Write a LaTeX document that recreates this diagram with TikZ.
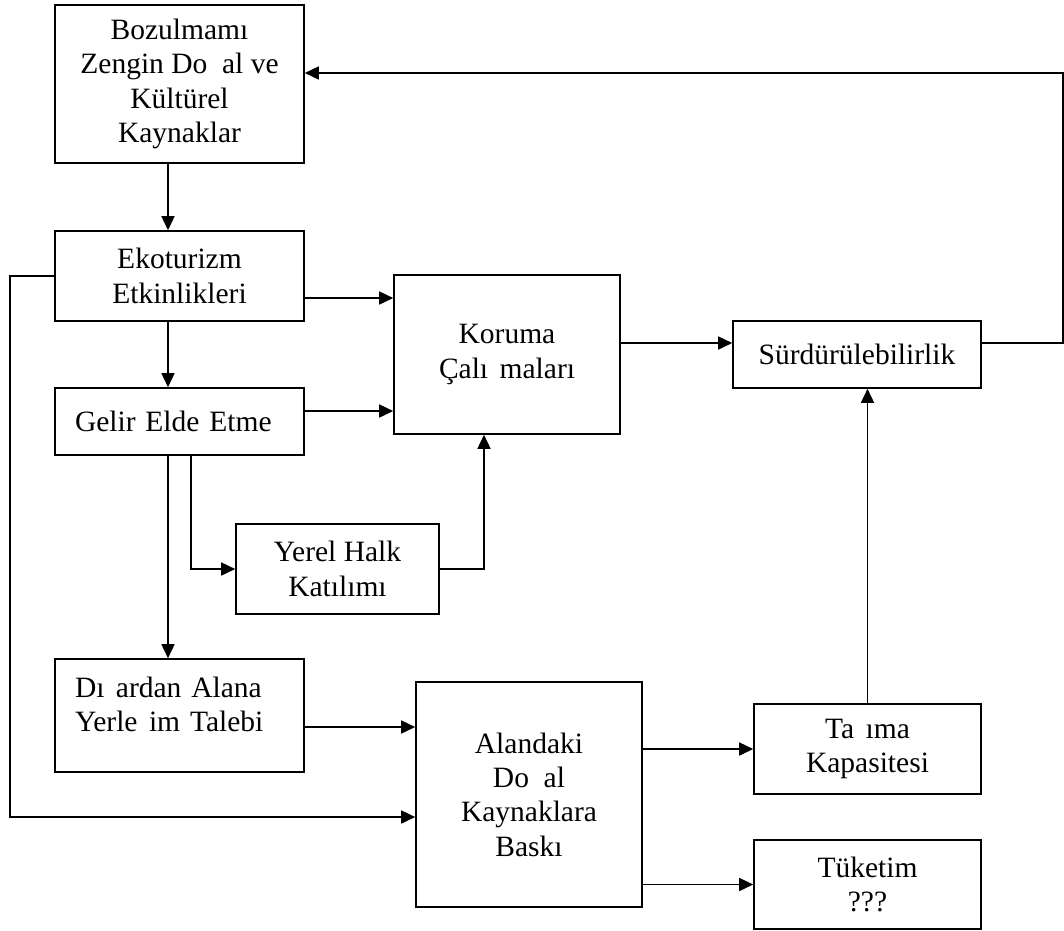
\documentclass[tikz,border=0pt]{standalone}
\usepackage{fontspec}
\setmainfont{Liberation Serif}
\usetikzlibrary{arrows.meta}
\tikzset{
  box/.style={draw, line width=1.6pt, align=center, inner sep=0pt,
    font=\fontsize{29.5}{34.4}\selectfont},
  leftbox/.style={draw, line width=1.6pt, align=left, inner xsep=20pt, inner ysep=0pt,
    text width=209pt, font=\fontsize{29.5}{34.4}\selectfont},
  arr/.style={line width=1.6pt, -{Triangle[length=14pt,width=13pt]}},
  ln/.style={line width=1.6pt}
}
\begin{document}
\begin{tikzpicture}[x=1pt,y=-1pt]
\useasboundingbox (0,0) rectangle (1064,930);
\node[box, minimum width=249pt, minimum height=158pt] (b1) at (179.5,84)
  {Bozulmamı\\Zengin Do\hspace{0.5em}al ve\\Kültürel\\Kaynaklar};
\node[box, minimum width=249pt, minimum height=90pt] (eko) at (179.5,276)
  {Ekoturizm\\Etkinlikleri};
\node[leftbox, minimum height=67pt] (gelir) at (179.5,421.5)
  {Gelir Elde Etme};
\node[box, minimum width=226pt, minimum height=159pt] (koruma) at (507,354.5)
  {Koruma\\Çalı\hspace{0.39em}maları};
\node[box, minimum width=248pt, minimum height=67pt] (surd) at (857,354.5)
  {Sürdürülebilirlik};
\node[box, minimum width=203pt, minimum height=90pt] (yerel) at (337.5,569)
  {Yerel Halk\\Katılımı};
\node[leftbox, minimum height=113pt] (disar) at (179.5,715.5)
  {Dı\hspace{0.39em}ardan Alana\\Yerle\hspace{0.39em}im Talebi\\[-12pt]\mbox{}};
\node[box, minimum width=226pt, minimum height=225pt] (alan) at (529,794.5)
  {Alandaki\\Do\hspace{0.5em}al\\Kaynaklara\\Baskı};
\node[box, minimum width=227pt, minimum height=90pt] (tasima) at (867.5,749)
  {Ta\hspace{0.39em}ıma\\Kapasitesi};
\node[box, minimum width=227pt, minimum height=89pt] (tuketim) at (867.5,884.5)
  {Tüketim\\???};
\coordinate (fbk) at (1063,73);
\coordinate (lft) at (10,817);
% connectors
\draw[arr] ([xshift=-11.5pt]b1.south) -- ([xshift=-11.5pt]eko.north);
\draw[arr] ([xshift=-11.5pt]eko.south) -- ([xshift=-11.5pt]gelir.north);
\draw[arr] ([yshift=-22pt]eko.east) -- ([yshift=-22pt]eko.east -| koruma.west);
\draw[arr] ([yshift=10.5pt]gelir.east) -- ([yshift=10.5pt]gelir.east -| koruma.west);
\draw[arr] ([yshift=11.5pt]koruma.east) -- ([yshift=11.5pt]surd.west);
\draw[arr] ([yshift=11.5pt]surd.east) -| (fbk) -- ([yshift=11pt]b1.east);
\draw[arr] (eko.west) -| (lft) -- (lft -| alan.west);
\draw[arr] ([xshift=11.5pt]gelir.south) |- (yerel.west);
\draw[arr] (yerel.east) -| ([xshift=-23pt]koruma.south);
\draw[arr] ([xshift=-11.5pt]gelir.south) -- ([xshift=-11.5pt]disar.north);
\draw[arr] ([yshift=-11.5pt]disar.east) -- ([yshift=-11.5pt]disar.east -| alan.west);
\draw[arr] (alan.east |- tasima.west) -- (tasima.west);
\draw[arr] (alan.east |- tuketim.west) -- (tuketim.west);
\draw[arr] (tasima.north) -- (tasima.north |- surd.south);
\end{tikzpicture}
\end{document}
